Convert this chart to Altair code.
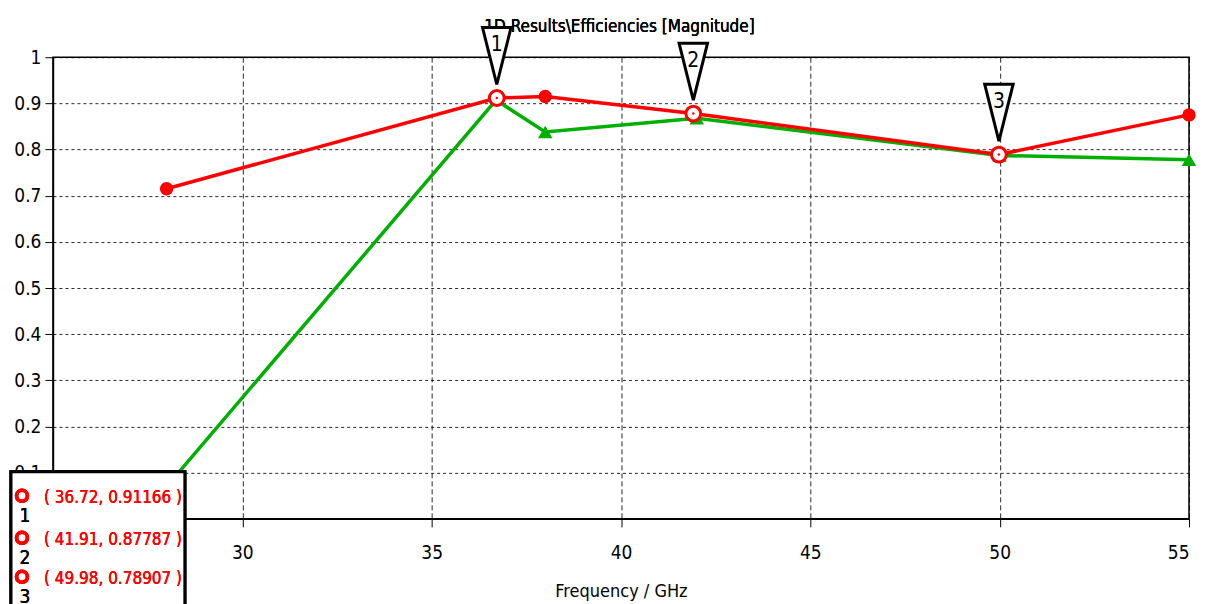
import altair as alt
import pandas as pd

# ---- data ----
red_freq = [28.0, 36.72, 38.0, 41.91, 49.98, 55.0]
red_eff = [0.715, 0.91166, 0.915, 0.87787, 0.78907, 0.875]
red_sim_freq = [28.0, 38.0, 55.0]          # filled red dots
green_freq = [28.0, 36.7, 38.0, 42.0, 50.0, 52.5, 55.0]
green_eff = [0.07, 0.907, 0.838, 0.868, 0.787, 0.783, 0.778]
green_sim_freq = [28.0, 38.0, 42.0, 50.0, 55.0]   # triangles
marker_ids = ["1", "2", "3"]
marker_freq = [36.72, 41.91, 49.98]
marker_eff = [0.91166, 0.87787, 0.78907]
marker_text = ["( 36.72, 0.91166 )", "( 41.91, 0.87787 )", "( 49.98, 0.78907 )"]
x_ticks = [25, 30, 35, 40, 45, 50, 55]
y_ticks = [0, 0.1, 0.2, 0.3, 0.4, 0.5, 0.6, 0.7, 0.8, 0.9, 1.0]
title_text = "1D Results\\Efficiencies [Magnitude]"

FONT = "DejaVu Sans Condensed"
RED = "#ff0000"
GREEN = "#00b000"

red_df = pd.DataFrame({"f": red_freq, "e": red_eff})
red_dots = red_df[red_df["f"].isin(red_sim_freq)]
green_df = pd.DataFrame({"f": green_freq, "e": green_eff})
green_tri = green_df[green_df["f"].isin(green_sim_freq)]
mk_df = pd.DataFrame({"id": marker_ids, "f": marker_freq, "e": marker_eff})

xs = alt.Scale(domain=[25, 55], nice=False, zero=False)
ys = alt.Scale(domain=[0, 1], nice=False)

X = alt.X("f:Q", scale=xs, title="Frequency / GHz",
          axis=alt.Axis(values=x_ticks, format="~g", gridDash=[5, 3],
                        tickSize=8, labelPadding=17, titlePadding=20))
Y = alt.Y("e:Q", scale=ys, title=None,
          axis=alt.Axis(values=y_ticks, format="~g", gridDash=[3, 3],
                        tickSize=8, labelPadding=4))

green_line = alt.Chart(green_df).mark_line(color=GREEN, strokeWidth=3.5).encode(x=X, y=Y)
green_pts = alt.Chart(green_tri).mark_point(
    shape="triangle-up", filled=True, color=GREEN, size=210, opacity=1
).encode(x="f:Q", y="e:Q")

red_line = alt.Chart(red_df).mark_line(color=RED, strokeWidth=3.5).encode(x="f:Q", y="e:Q")
red_pts = alt.Chart(red_dots).mark_point(
    shape="circle", filled=True, color=RED, size=180, opacity=1
).encode(x="f:Q", y="e:Q")

mk_circle = alt.Chart(mk_df).mark_point(
    shape="circle", filled=True, fill="white", stroke=RED, strokeWidth=3,
    size=220, opacity=1
).encode(x="f:Q", y="e:Q")
mk_dot = alt.Chart(mk_df).mark_point(
    shape="circle", filled=True, color=RED, size=6, opacity=1
).encode(x="f:Q", y="e:Q")
mk_tri = alt.Chart(mk_df).mark_point(
    shape="M -0.5 -1 L 0.5 -1 L 0 1 Z", size=3249, filled=True,
    fill="white", stroke="black", strokeWidth=3, opacity=1, yOffset=-42
).encode(x="f:Q", y="e:Q")
mk_num = alt.Chart(mk_df).mark_text(
    font=FONT, fontSize=21, color="black", dy=-53, baseline="middle"
).encode(x="f:Q", y="e:Q", text="id:N")

title = alt.Chart(mk_df).mark_text(
    text=title_text, font=FONT, fontSize=17, color="black", align="center", baseline="middle"
).encode(x=alt.value(567), y=alt.value(-30))

# legend box (marker readout) at the lower left
box = alt.Chart(mk_df).mark_rect(
    fill="white", stroke="black", strokeWidth=3
).encode(x=alt.value(-42), x2=alt.value(132), y=alt.value(415), y2=alt.value(560))

layers = [green_line, green_pts, red_line, red_pts, mk_circle, mk_dot, title, mk_tri, mk_num, box]
row_y = [441, 483, 522]
for i in range(3):
    layers.append(alt.Chart(mk_df).mark_point(
        shape="circle", filled=False, stroke=RED, strokeWidth=3.5, size=120, opacity=1
    ).encode(x=alt.value(-31), y=alt.value(row_y[i] - 2)))
    layers.append(alt.Chart(mk_df).mark_text(
        text=marker_text[i], font=FONT, fontSize=17, color=RED, align="left", baseline="middle"
    ).encode(x=alt.value(-9), y=alt.value(row_y[i])))
    layers.append(alt.Chart(mk_df).mark_text(
        text=marker_ids[i], font=FONT, fontSize=19, color="black", align="center", baseline="middle"
    ).encode(x=alt.value(-28), y=alt.value(row_y[i] + 18)))

chart = alt.layer(*layers).properties(
    width=1137, height=462,
    padding={"left": 45, "top": 49, "right": 10, "bottom": 90},
    autosize=alt.AutoSizeParams(type="none"),
).configure_view(
    stroke="black", strokeWidth=1.5
).configure_axis(
    labelFont=FONT, labelFontSize=19, labelColor="black",
    titleFont=FONT, titleFontSize=18, titleFontWeight="normal", titleColor="black",
    domainColor="black", domainWidth=1.5, tickColor="black", tickWidth=1,
    gridColor="black", gridOpacity=0.85, gridWidth=1,
)

chart.save("out.html", embed_options={"renderer": "svg", "actions": False})
